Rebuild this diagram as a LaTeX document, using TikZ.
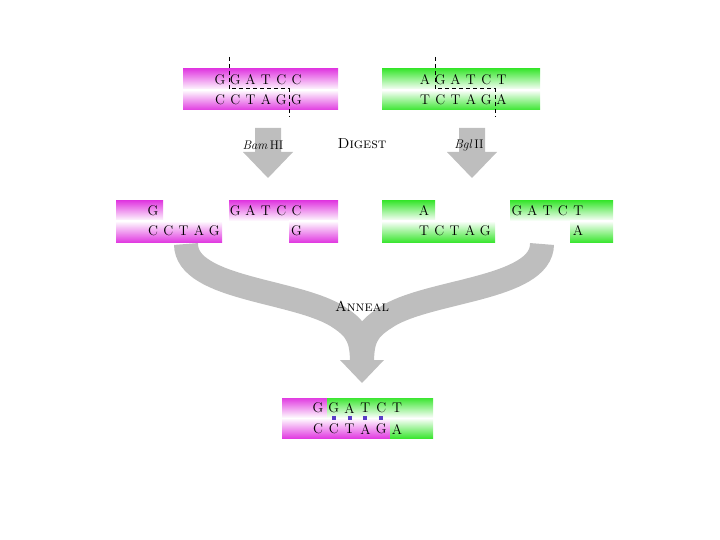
\documentclass[tikz,border=0pt]{standalone}
\definecolor{mag}{RGB}{225,60,225}
\definecolor{grn}{RGB}{60,230,50}
\definecolor{arr}{RGB}{190,190,190}
\definecolor{dotc}{RGB}{90,60,200}
\begin{document}
\begin{tikzpicture}[x=1pt,y=-1pt,
  base/.style={font=\fontsize{14}{16}\selectfont, inner sep=0pt},
  lbl/.style={font=\fontsize{12.5}{14}\selectfont, inner sep=1pt},
  big/.style={font=\fontsize{14.5}{16}\selectfont, inner sep=1pt},
  cut/.style={draw=black, line width=1pt, dash pattern=on 4pt off 3pt},
  band/.style={draw=arr, line width=24pt},
  magtop/.style={top color=mag, middle color=mag!70!white, bottom color=white},
  magbot/.style={top color=white, middle color=mag!70!white, bottom color=mag},
  grntop/.style={top color=grn, middle color=grn!70!white, bottom color=white},
  grnbot/.style={top color=white, middle color=grn!70!white, bottom color=grn},
  ]
\useasboundingbox (0,0) rectangle (720,540);

% ---------- digest arrows ----------
\fill[arr] (255,128) -- (281,128) -- (281,152) -- (293,152) -- (268,178) -- (243,152) -- (255,152) -- cycle;
\fill[arr] (459,128) -- (485,128) -- (485,152) -- (497,152) -- (472,178) -- (447,152) -- (459,152) -- cycle;

% ---------- anneal arrow ----------
\draw[band] (186,244) .. controls (186,290) and (300,290) .. (340,318) .. controls (358,330) and (362,340) .. (362,364);
\draw[band] (542,244) .. controls (542,290) and (425,290) .. (385,318) .. controls (366,330) and (362,340) .. (362,364);
\fill[arr] (340,360) -- (384,360) -- (362,383) -- cycle;

% ---------- labels ----------
\node[lbl] (bam) at (263,145) {\textit{Bam}\,HI};
\node[lbl] (bgl) at (469,145) {\textit{Bgl}\,II};
\node[big] (digest) at (362,144) {\textsc{Digest}};
\node[big] (anneal) at (362,306) {\textsc{Anneal}};

% ---------- original BamHI site ----------
\fill[magtop] (183,69) rectangle (338,90);
\fill[magbot] (183,90) rectangle (338,110);
\foreach \c [count=\i from 0] in {G,G,A,T,C,C}
  \node[base] (lt\i) at (220+15.3*\i,80) {\c};
\foreach \c [count=\i from 0] in {C,C,T,A,G,G}
  \node[base] (lb\i) at (220+15.3*\i,99.5) {\c};
\draw[cut] (229,57) -- (229,89) -- (289,89) -- (289,117);

% ---------- original BglII site ----------
\fill[grntop] (382,69) rectangle (540,90);
\fill[grnbot] (382,90) rectangle (540,110);
\foreach \c [count=\i from 0] in {A,G,A,T,C,T}
  \node[base] (rt\i) at (425+15.3*\i,80) {\c};
\foreach \c [count=\i from 0] in {T,C,T,A,G,A}
  \node[base] (rb\i) at (425+15.3*\i,99.5) {\c};
\draw[cut] (435,57) -- (435,89) -- (495,89) -- (495,117);

% ---------- digested fragments (magenta) ----------
\fill[magtop] (116,201) rectangle (163,221);
\fill[magbot] (116,221) rectangle (222,242);
\node[base] (m1t0) at (153,211) {G};
\foreach \c [count=\i from 0] in {C,C,T,A,G}
  \node[base] (m1b\i) at (153+15.3*\i,231) {\c};
\fill[magtop] (229,201) rectangle (338,221);
\fill[magbot] (289,221) rectangle (338,242);
\foreach \c [count=\i from 1] in {G,A,T,C,C}
  \node[base] (m2t\i) at (220+15.3*\i,211) {\c};
\node[base] (m2b5) at (296.5,231) {G};

% ---------- digested fragments (green) ----------
\fill[grntop] (382,201) rectangle (435,221);
\fill[grnbot] (382,221) rectangle (495,242);
\node[base] (g1t0) at (424,211) {A};
\foreach \c [count=\i from 0] in {T,C,T,A,G}
  \node[base] (g1b\i) at (424+15.3*\i,231) {\c};
\fill[grntop] (510,201) rectangle (613,221);
\fill[grnbot] (570,221) rectangle (613,242);
\foreach \c [count=\i from 1] in {G,A,T,C,T}
  \node[base] (g2t\i) at (501.7+15.3*\i,211) {\c};
\node[base] (g2b5) at (578,231) {A};

% ---------- annealed product ----------
\fill[magtop] (282,398) rectangle (327,418);
\fill[grntop] (327,398) rectangle (433,418);
\fill[magbot] (282,418) rectangle (390,438);
\fill[grnbot] (390,418) rectangle (433,438);
\foreach \c [count=\i from 0] in {G,G,A,T,C,T}
  \node[base] (pt\i) at (318+15.8*\i,408) {\c};
\foreach \c [count=\i from 0] in {C,C,T,A,G,A}
  \node[base] (pb\i) at (318+15.8*\i,429) {\c};
\foreach \i in {1,2,3,4}
  \fill[dotc] (316+15.8*\i,416) rectangle ++(4,4);
\end{tikzpicture}
\end{document}
